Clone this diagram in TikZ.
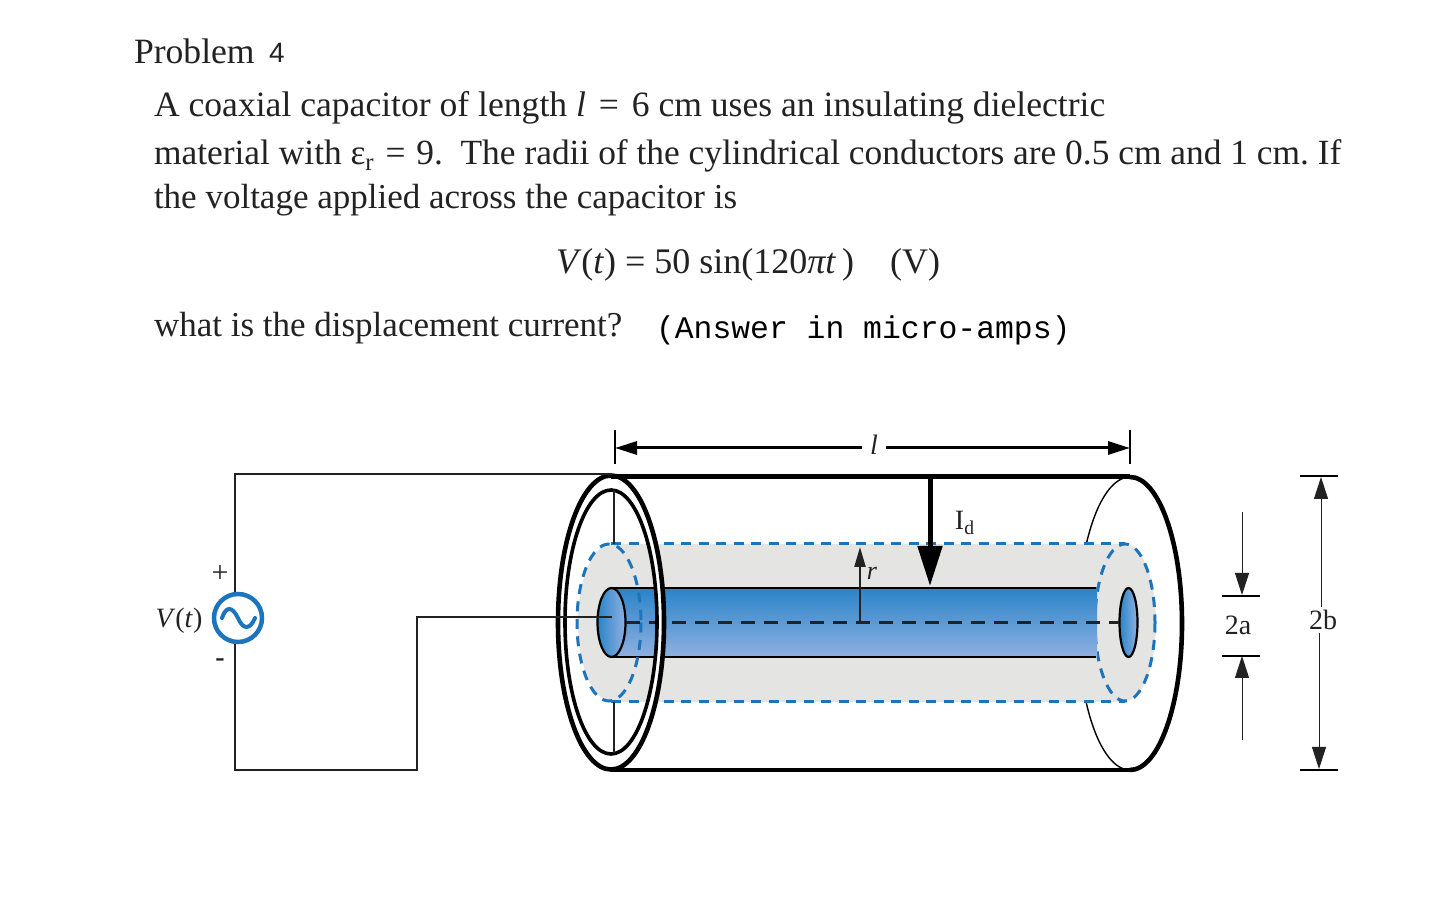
\documentclass[tikz,border=0pt]{standalone}
\usepackage{fontspec}
\setmainfont{Liberation Serif}
\newfontfamily\arialfont{Liberation Sans}
\newfontfamily\courierfont{Liberation Mono}
\usetikzlibrary{arrows,arrows.meta,positioning}
\definecolor{coaxblue}{HTML}{1C75BC}
\definecolor{coaxgrey}{HTML}{E4E5E3}
\definecolor{tubetop}{HTML}{2A84C8}
\definecolor{tubebottom}{HTML}{8FB0E0}
\definecolor{inktext}{HTML}{222222}

\begin{document}
\begin{tikzpicture}[x=0.5pt,y=-0.5pt,
  line node/.style={anchor=base west,inner sep=0pt,outer sep=0pt,text=inktext,font=\fontsize{17.5}{20}\selectfont},
  fig node/.style={inner sep=1.5pt,text=inktext,font=\fontsize{14}{16}\selectfont},
  wire/.style={draw=inktext,line width=1.4pt},
  rim/.style={draw=black,line width=2.3pt},
  tick/.style={draw=black,line width=1.2pt},
  dim/.style={draw=black,line width=1.5pt,-{Triangle[length=11pt,width=6.5pt]}},
  thin dim/.style={draw=inktext,line width=0.5pt,-{Triangle[length=11pt,width=7pt]}},
  dielectric/.style={draw=coaxblue,line width=1.5pt,dash pattern=on 5pt off 3.75pt}]
  \useasboundingbox (0,0) rectangle (1452,908);

  % text of the problem
  \node[line node,font=\fontsize{17.8}{20}\selectfont] (title) at (134,64) {Problem};
  \node[line node,font=\arialfont\fontsize{14}{16}\selectfont] (number) at (269,63) {4};
  \node[line node,font=\fontsize{17.8}{20}\selectfont] (line1) at (154,117) {A coaxial capacitor of length \textit{l}\hspace{2pt} = \hspace{2pt}6 cm uses an insulating dielectric};
  \node[line node,font=\fontsize{17.7}{20}\selectfont] (line2) at (154,165) {material with ε\textsubscript{r}\hspace{1pt} = \hspace{1pt}9.\ \ The radii of the cylindrical conductors are 0.5 cm and 1 cm.\ If};
  \node[line node] (line3) at (154,209) {the voltage applied across the capacitor is};
  \node[line node,font=\fontsize{18}{20}\selectfont] (eqn) at (556,274) {\textit{V}(\textit{t}) = 50 sin(120\textit{πt}\,)\quad (V)};
  \node[line node] (line4) at (154,337) {what is the displacement current?};
  \node[line node,font=\courierfont\fontsize{15.7}{16}\selectfont,text=black] (answer) at (656,339) {(Answer in micro-amps)};

  % far end of the outer conductor, then the dielectric
  \draw[black,line width=0.7pt] (1130,477) arc[start angle=270,end angle=90,x radius=52,y radius=146.5];
  \fill[coaxgrey] (611,622.5) ellipse [x radius=33,y radius=78.5];
  \fill[coaxgrey] (611,544) rectangle (1125,702);
  \fill[coaxgrey] (1125,622.5) ellipse [x radius=31,y radius=78.5];
  \draw[dielectric] (611,544) -- (1125,544);
  \draw[dielectric] (611,702) -- (1125,702);
  \draw[dielectric] (1125,622.5) ellipse [x radius=30,y radius=78.5];

  % inner conductor
  \shade[top color=tubetop,bottom color=tubebottom] (611,588) rectangle (1097,657);
  \draw[black,line width=1.4pt] (611,588) -- (1096,588);
  \draw[black,line width=1.4pt] (611,657) -- (1096,657);
  \draw[dielectric] (609,622.5) ellipse [x radius=32,y radius=78.5];
  \draw[left color=tubetop,right color=tubebottom,draw=black,line width=1.1pt] (611.5,622.5) ellipse [x radius=14,y radius=34.5];
  \draw[left color=tubetop,right color=tubebottom,draw=black,line width=1.1pt] (1128.5,622.5) ellipse [x radius=9,y radius=34.5];
  \draw[draw=inktext,line width=1.5pt,dash pattern=on 7pt off 4.5pt] (626,622.5) -- (1119,622.5);

  % outer conductor
  \draw[white,line width=3pt] (611,622.5) ellipse [x radius=50,y radius=139.5];
  \draw[rim] (611,622.5) ellipse [x radius=53,y radius=147];
  \draw[black,line width=1.8pt] (611,622) ellipse [x radius=46,y radius=132];
  \draw[black,line width=2.5pt] (611,477) -- (1130,477);
  \draw[rim] (611,770) -- (1130,770);
  \draw[rim] (1130,477) arc[start angle=270,end angle=450,x radius=52,y radius=146.5];
  \draw[inktext,line width=0.7pt] (614,490) -- (614,544);
  \draw[inktext,line width=0.7pt] (614,702) -- (614,753);

  % circuit
  \node[circle,draw=coaxblue,line width=2.25pt,minimum size=24pt,inner sep=0pt] (source) at (238,618) {};
  \draw[coaxblue,line width=2pt,line cap=round] (222,618) .. controls (226,606) and (232,606) .. (238,618) .. controls (243,630) and (250,630) .. (255,618);
  \coordinate (top left) at (235,474);
  \coordinate (top end) at (612,474);
  \coordinate (bottom left) at (235,770);
  \coordinate (bottom right) at (417,770);
  \coordinate (feed corner) at (417,617);
  \coordinate (feed end) at (612,617);
  \draw[wire] (source.north -| top left) -- (top left) -- (top end);
  \draw[wire] (source.south -| bottom left) -- (bottom left) -- (bottom right) -- (feed corner) -- (feed end);
  \node[fig node] (vt) at (179,621) {\textit{V}(\textit{t})};
  \node[fig node,font=\fontsize{15}{16}\selectfont] (plus) at (220,574) {+};
  \node[fig node,font=\bfseries\fontsize{14}{16}\selectfont] (minus) at (220,663) {-};

  % length
  \coordinate (l left) at (615,448);
  \coordinate (l right) at (1130,448);
  \node[fig node,inner sep=4pt] (l) at (874,445) {\textit{l}};
  \draw[tick] (615,430) -- (615,464);
  \draw[tick,line width=1pt] (1130,430) -- (1130,464);
  \draw[dim] (l.west |- l left) -- (l left);
  \draw[dim] (l.east |- l right) -- (l right);

  % displacement current and radius
  \coordinate (id top) at (930,477);
  \coordinate (id tip) at (930,586);
  \draw[draw=black,line width=2.5pt,-{Triangle[length=20pt,width=12pt]}] (id top) -- (id tip);
  \node[fig node] (id) at (965,523) {I\textsubscript{d}};
  \coordinate (r foot) at (860,622);
  \coordinate (r tip) at (860,547);
  \draw[draw=inktext,line width=1.1pt,-{Triangle[length=10pt,width=5.5pt]}] (r foot) -- (r tip);
  \node[fig node,font=\itshape\fontsize{13}{16}\selectfont] (r) at (872,573) {r};

  % inner diameter
  \coordinate (a top) at (1242,512);
  \coordinate (a bottom) at (1242,740);
  \coordinate (a upper) at (1242,595);
  \coordinate (a lower) at (1242,656);
  \draw[thin dim] (a top) -- (a upper);
  \draw[thin dim] (a bottom) -- (a lower);
  \draw[tick] (1222,596) -- (1260,596);
  \draw[tick] (1222,656) -- (1260,656);
  \node[fig node] (2a) at (1238,625) {2a};

  % outer diameter
  \coordinate (b top) at (1321,477);
  \coordinate (b bottom) at (1319,769);
  \node[fig node] (2b) at (1323,620) {2b};
  \draw[thin dim] (2b.north -| b top) -- (b top);
  \draw[thin dim] (2b.south -| b bottom) -- (b bottom);
  \draw[tick] (1300,476) -- (1338,476);
  \draw[tick] (1300,770) -- (1338,770);
\end{tikzpicture}
\end{document}
